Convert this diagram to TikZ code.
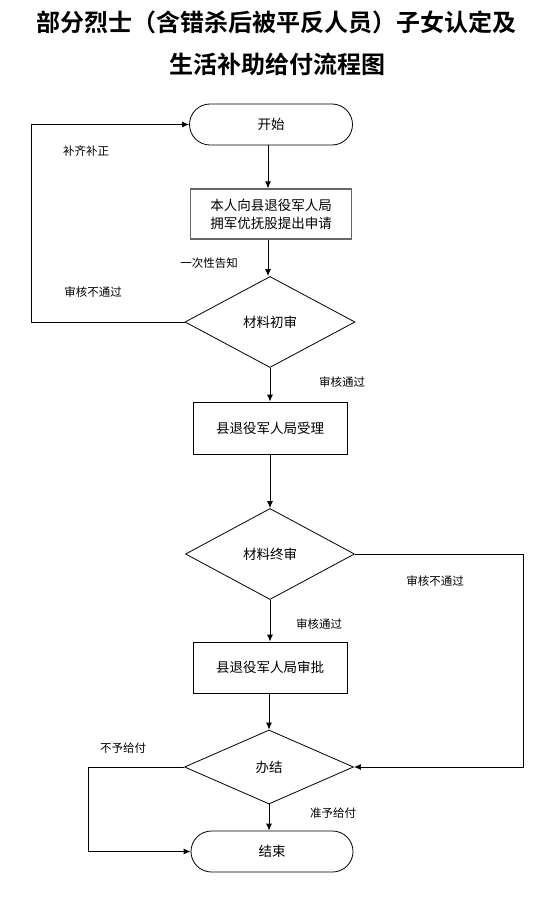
\documentclass[tikz,border=0pt]{standalone}
\usepackage{fontspec}
\setmainfont{Noto Sans CJK SC}
\newfontfamily\cjk{Noto Sans CJK SC}
\newfontfamily\cjkbold{Noto Sans CJK SC Bold}
\usetikzlibrary{shapes.geometric,arrows.meta}
\tikzset{
  box/.style={draw=black, line width=0.8pt, rectangle, inner sep=0pt, align=center, font=\cjk\fontsize{13.5}{18}\selectfont},
  greybox/.style={box, draw=black!60, line width=1.2pt},
  term/.style={box, minimum width=163pt, minimum height=41pt, rounded corners=20.5pt},
  dec/.style={draw=black, line width=0.8pt, diamond, inner sep=0pt, font=\cjk\fontsize{13.5}{16}\selectfont},
  lbl/.style={inner sep=0pt, font=\cjk\fontsize{11.5}{14}\selectfont},
  arr/.style={draw=black, line width=0.9pt, -{Latex[length=7pt,width=6pt]}},
  ln/.style={draw=black, line width=0.9pt},
  ttl/.style={inner sep=0pt, font=\cjkbold\fontsize{24}{30}\selectfont}
}
\begin{document}
\begin{tikzpicture}[x=1pt,y=-1pt]
\useasboundingbox (0,0) rectangle (554,915);
\node[ttl] (t1) at (276,22) {部分烈士（含错杀后被平反人员）子女认定及};
\node[ttl] (t2) at (277,64) {生活补助给付流程图};

\node[term] (start) at (271,124.5) {开始};
\node[greybox, minimum width=161pt, minimum height=50pt] (b1) at (271,214) {本人向县退役军人局\\拥军优抚股提出申请};
\node[dec, minimum width=170pt, minimum height=91pt] (d1) at (270,322) {材料初审};
\node[box, minimum width=154pt, minimum height=52pt] (b2) at (270,428) {县退役军人局受理};
\node[dec, minimum width=169pt, minimum height=91pt] (d2) at (270,554) {材料终审};
\node[box, minimum width=154pt, minimum height=51pt] (b3) at (270,667.5) {县退役军人局审批};
\node[dec, minimum width=169pt, minimum height=74pt] (d3) at (269,767) {办结};
\node[term, minimum width=162pt] (end) at (272,851.5) {结束};

\coordinate (L1) at (31,0);
\coordinate (R1) at (523,0);
\coordinate (L2) at (88,0);

\draw[arr] (start.south -| 268,0) -- (b1.north -| 268,0);
\draw[arr] (b1.south -| 268,0) -- (d1.north -| 268,0);
\draw[arr] (d1) -- (b2);
\draw[arr] (b2) -- (d2);
\draw[arr] (d2) -- (b3);
\draw[arr] (b3.south -| d3) -- (d3);
\draw[arr] (d3.south) -- (end.north -| d3.south);

\draw[arr] (d1.west) -- (d1.west -| L1) |- (start.west);
\draw[arr] (d2.east) -- (d2.east -| R1) |- (d3.east);
\draw[arr] (d3.west) -- (d3.west -| L2) |- (end.west);

\node[lbl] (l1) at (86,151) {补齐补正};
\node[lbl] (l2) at (93,292) {审核不通过};
\node[lbl] (l3) at (209,263) {一次性告知};
\node[lbl] (l4) at (342,382) {审核通过};
\node[lbl] (l5) at (435,581) {审核不通过};
\node[lbl] (l6) at (319,624) {审核通过};
\node[lbl] (l7) at (123,748) {不予给付};
\node[lbl] (l8) at (333,813) {准予给付};
\end{tikzpicture}
\end{document}
